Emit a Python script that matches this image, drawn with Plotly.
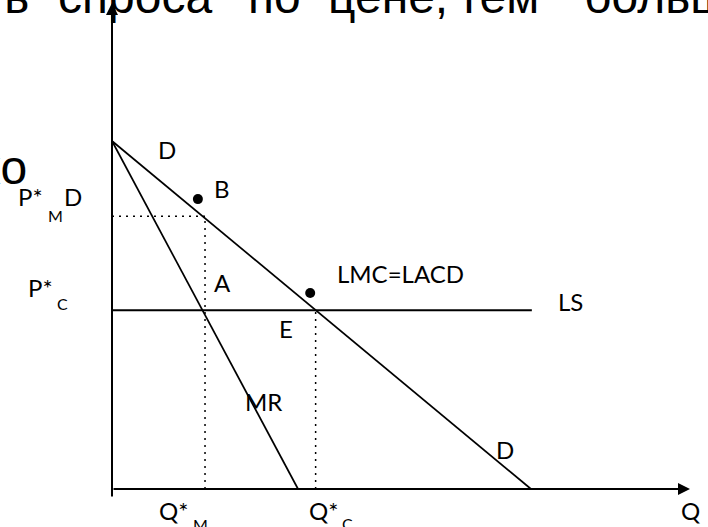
import plotly.graph_objects as go

# ---- data (economic units: quantity Q, price P) ----
demand_q = [0, 100]
demand_p = [100, 0]
mr_q = [0, 44.4]
mr_p = [100, 0]
ls_q = [0, 100.2]
ls_p = [51.4, 51.4]
q_m, p_m = 22.2, 78.4      # monopoly quantity / price
q_c, p_c = 48.6, 51.4      # competitive quantity / price
dot_q = [20.5, 47.3]       # points B and E markers
dot_p = [83.3, 56.3]

# ---- page geometry (pixel mapping used only for layout) ----
W, H = 708, 527
X0, Y0 = 112, 489          # origin in pixels
SX, SY = 4.19, 3.48        # pixels per unit


def pq(x, y):
    """pixel position -> data coordinates (for label placement)"""
    return (x - X0) / SX, (Y0 - y) / SY


fig = go.Figure()

line_black = dict(color="black", width=1.7)
fig.add_trace(go.Scatter(x=demand_q, y=demand_p, mode="lines", line=line_black, hoverinfo="skip"))
fig.add_trace(go.Scatter(x=mr_q, y=mr_p, mode="lines", line=line_black, hoverinfo="skip"))
fig.add_trace(go.Scatter(x=ls_q, y=ls_p, mode="lines", line=dict(color="black", width=2), hoverinfo="skip"))

dot = dict(color="black", width=1.5, dash="2px,5px")
fig.add_trace(go.Scatter(x=[0, q_m], y=[p_m, p_m], mode="lines", line=dot, hoverinfo="skip"))
fig.add_trace(go.Scatter(x=[q_m, q_m], y=[0, p_m], mode="lines", line=dot, hoverinfo="skip"))
fig.add_trace(go.Scatter(x=[q_c, q_c], y=[0, p_c], mode="lines", line=dot, hoverinfo="skip"))

fig.add_trace(go.Scatter(x=dot_q, y=dot_p, mode="markers",
                         marker=dict(color="black", size=10), hoverinfo="skip"))

LF = "Lato, 'Open Sans', sans-serif"


def lab(text, px, py, size=24, anchor="center", font=LF, shift=0):
    x, y = pq(px, py)
    fig.add_annotation(x=x, y=y, xref="x", yref="y", text=text, showarrow=False,
                       xanchor=anchor, yanchor="middle", yshift=shift,
                       font=dict(family=font, size=size, color="black"))


# slide text partly covered by the chart (drawn first, under the axis arrow)
SF = "'Liberation Sans', Arial, sans-serif"
TY, TS = 4, 8
lab("эластичность", 31, TY, size=48, anchor="right", font=SF, shift=TS)
lab("спроса", 56, TY, size=48, anchor="left", font=SF, shift=TS)
lab("по", 246, TY, size=48, anchor="left", font=SF, shift=TS)
lab("цене,", 326, TY, size=48, anchor="left", font=SF, shift=TS)
lab("тем", 456, TY, size=48, anchor="left", font=SF, shift=TS)
lab("больше", 582, TY, size=48, anchor="left", font=SF, shift=TS)
lab("ко", 29, 167, size=48, anchor="right", font=SF)

# axes with arrows
x_bottom = pq(0, 498)[1]
y_top = pq(0, 3)[1]
x_tip = pq(690, 0)[0]
fig.add_annotation(x=0, y=y_top, ax=0, ay=x_bottom, xref="x", yref="y", axref="x", ayref="y",
                   text="", showarrow=True, arrowhead=2, arrowsize=1.2, arrowwidth=2, arrowcolor="black")
fig.add_annotation(x=x_tip, y=0, ax=0, ay=0, xref="x", yref="y", axref="x", ayref="y",
                   text="", showarrow=True, arrowhead=2, arrowsize=1.2, arrowwidth=2, arrowcolor="black")

# labels on the chart
lab("D", 167, 149)
lab("B", 222, 188)
lab("A", 222, 282)
lab("LMC=LACD", 400, 273)
lab("LS", 570, 301)
lab("E", 286, 328)
lab("MR", 263, 401)
lab("D", 505, 449)
lab("Q*", 157, 510, anchor="left")
lab("M", 200, 524, size=16)
lab("Q*", 307, 510, anchor="left")
lab("C", 347, 523, size=16)
lab("Q", 690, 510)
lab("P*", 16, 196, anchor="left")
lab("M", 55, 215, size=16)
lab("D", 73, 196)
lab("P*", 26, 287, anchor="left")
lab("C", 62, 303, size=16)

fig.update_layout(
    width=W, height=H, margin=dict(l=0, r=0, t=0, b=0),
    paper_bgcolor="white", plot_bgcolor="white", showlegend=False,
    xaxis=dict(range=[pq(0, 0)[0], pq(W, 0)[0]], visible=False, fixedrange=True),
    yaxis=dict(range=[pq(0, H)[1], pq(0, 0)[1]], visible=False, fixedrange=True),
)
fig.write_html("out.html", config={"displayModeBar": False},
               post_script="document.body.style.margin='0';")
